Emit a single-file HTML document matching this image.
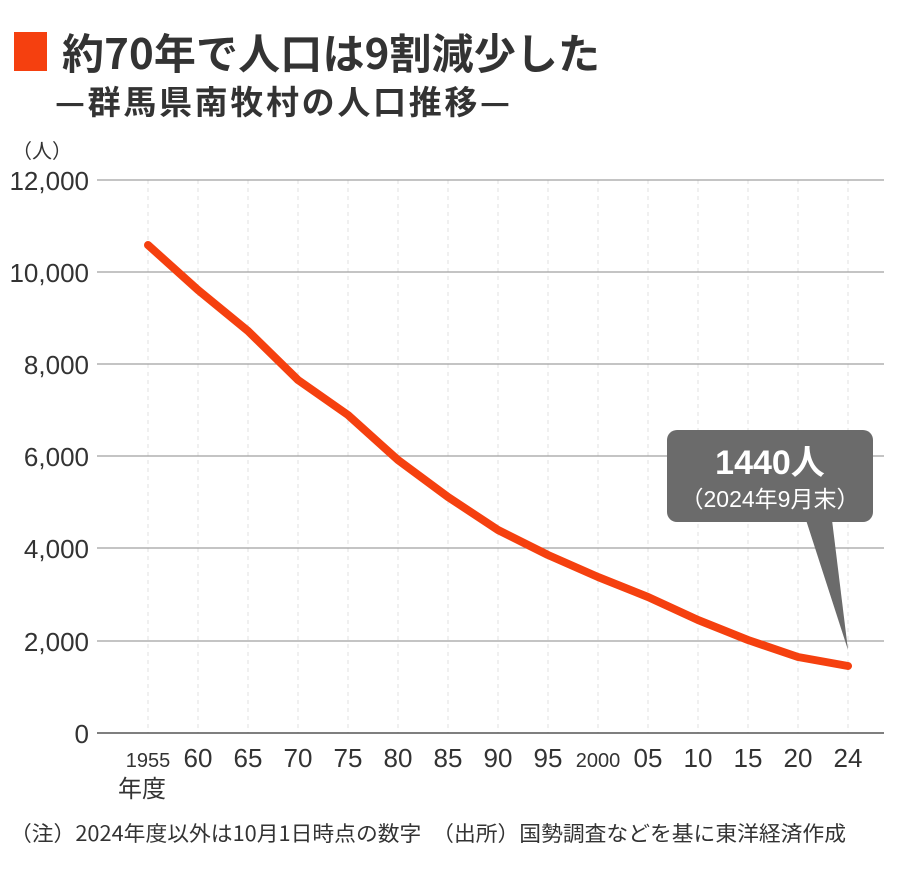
<!DOCTYPE html>
<html><head><meta charset="utf-8"><style>
body{margin:0;background:#fff;}
svg text{font-family:"Liberation Sans","Noto Sans CJK JP",sans-serif;}
</style></head><body>
<svg width="900" height="878" viewBox="0 0 900 878" xmlns="http://www.w3.org/2000/svg">
<rect x="14" y="32" width="33" height="39" fill="#f5400f"/>
<text x="62" y="69" font-size="42" font-weight="bold" fill="#333" textLength="538" lengthAdjust="spacing" style="font-family:'Noto Sans CJK JP',sans-serif">約70年で人口は9割減少した</text>
<text x="55" y="114" font-size="33" font-weight="bold" fill="#333" textLength="455" lengthAdjust="spacing" style="font-family:'Noto Sans CJK JP',sans-serif">—群馬県南牧村の人口推移—</text>
<text x="12" y="158" font-size="20" fill="#333">（人）</text>
<g stroke="#e0e0e0" stroke-width="1" stroke-dasharray="4,4">
<line x1="148" y1="180" x2="148" y2="733"/><line x1="198" y1="180" x2="198" y2="733"/><line x1="248" y1="180" x2="248" y2="733"/><line x1="298" y1="180" x2="298" y2="733"/><line x1="348" y1="180" x2="348" y2="733"/><line x1="398" y1="180" x2="398" y2="733"/><line x1="448" y1="180" x2="448" y2="733"/><line x1="498" y1="180" x2="498" y2="733"/><line x1="548" y1="180" x2="548" y2="733"/><line x1="598" y1="180" x2="598" y2="733"/><line x1="648" y1="180" x2="648" y2="733"/><line x1="698" y1="180" x2="698" y2="733"/><line x1="748" y1="180" x2="748" y2="733"/><line x1="798" y1="180" x2="798" y2="733"/><line x1="848" y1="180" x2="848" y2="733"/>
</g>
<g stroke="#a0a0a0" stroke-width="1.2">
<line x1="97" y1="180" x2="884" y2="180"/><line x1="97" y1="272" x2="884" y2="272"/><line x1="97" y1="364" x2="884" y2="364"/><line x1="97" y1="456" x2="884" y2="456"/><line x1="97" y1="548" x2="884" y2="548"/><line x1="97" y1="641" x2="884" y2="641"/>
</g>
<line x1="97" y1="733" x2="884" y2="733" stroke="#555" stroke-width="1.5"/>
<g font-size="26" fill="#333" text-anchor="end">
<text x="89" y="190">12,000</text><text x="89" y="282">10,000</text><text x="89" y="374">8,000</text><text x="89" y="466">6,000</text><text x="89" y="558">4,000</text><text x="89" y="651">2,000</text><text x="89" y="743">0</text>
</g>
<g font-size="26" fill="#333" text-anchor="middle">
<text x="148" y="767" font-size="20">1955</text><text x="198" y="767">60</text><text x="248" y="767">65</text><text x="298" y="767">70</text><text x="348" y="767">75</text><text x="398" y="767">80</text><text x="448" y="767">85</text><text x="498" y="767">90</text><text x="548" y="767">95</text><text x="598" y="767" font-size="20">2000</text><text x="648" y="767">05</text><text x="698" y="767">10</text><text x="748" y="767">15</text><text x="798" y="767">20</text><text x="848" y="767">24</text>
</g>
<text x="118" y="797" font-size="24" fill="#333" style="font-family:'Noto Sans CJK JP',sans-serif">年度</text>
<polyline fill="none" stroke="#f5400f" stroke-width="8" stroke-linecap="round" stroke-linejoin="round"
points="148,245 198,290 248,331 298,380 348,415 398,460 448,497 498,530 548,555 598,577 648,597 698,620 748,640 798,657 848,666"/>
<rect x="667" y="430" width="206" height="92" rx="10" fill="#6b6b6b"/>
<polygon points="806,520 832,520 848,650" fill="#6b6b6b"/>
<text x="770" y="474" font-size="34" font-weight="bold" fill="#fff" text-anchor="middle">1440人</text>
<text x="770" y="507" font-size="23" fill="#fff" text-anchor="middle">（2024年9月末）</text>
<text x="10" y="841" font-size="21" fill="#333" textLength="836" lengthAdjust="spacingAndGlyphs" style="font-family:'Noto Sans CJK JP',sans-serif">（注）2024年度以外は10月1日時点の数字　（出所）国勢調査などを基に東洋経済作成</text>
</svg>
</body></html>
